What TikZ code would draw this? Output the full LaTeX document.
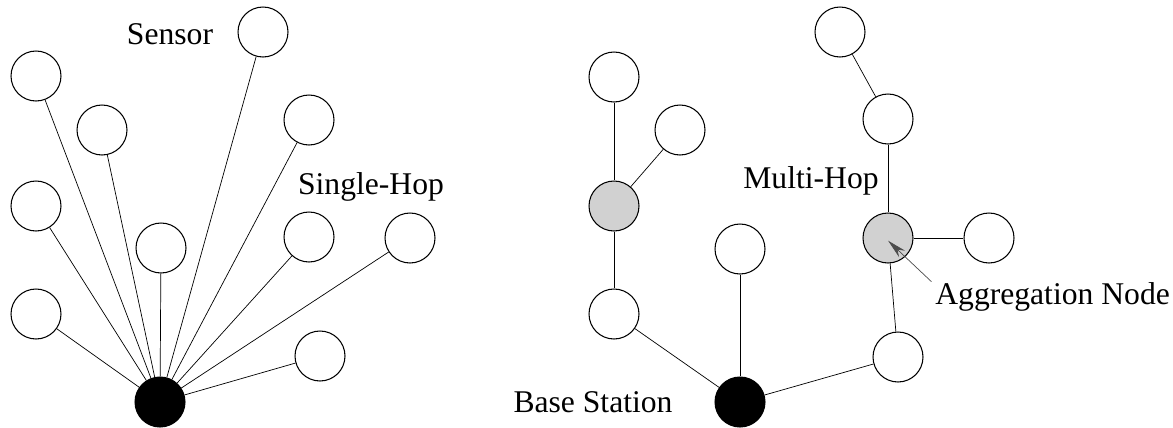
\documentclass[tikz,border=0pt]{standalone}
\usepackage{fontspec}
\setmainfont{Liberation Serif}
\usetikzlibrary{arrows.meta}
\tikzset{
line width=0.6pt,
sensor/.style={circle, draw, line width=0.6pt, minimum size=1cm, inner sep=0pt},
}

\begin{document}
\begin{tikzpicture}
    [x=0.02cm, y=-0.02cm,
    font=\fontsize{18}{20}\selectfont,
    base/.style={sensor, fill=black},
    aggr/.style={sensor, fill=black!18},
    caption/.style={inner sep=0pt, anchor=base},
    ]
    \useasboundingbox (0,0) rectangle (1173,427);

    % single-hop
    \node [base] (bs1) at (160,402) {};
    \node [sensor] (s1) at (36,76) {};
    \node [sensor] (s2) at (102,130) {};
    \node [sensor] (s3) at (263,32) {};
    \node [sensor] (s4) at (309,120) {};
    \node [sensor] (s5) at (36,206) {};
    \node [sensor] (s6) at (161,248) {};
    \node [sensor] (s7) at (309,237) {};
    \node [sensor] (s8) at (410,238) {};
    \node [sensor] (s9) at (36,314) {};
    \node [sensor] (s10) at (320,356) {};

    \node [caption] (sensortxt) at (170,44) {Sensor};
    \node [caption] (singletxt) at (371,194) {Single-Hop};

    \draw (bs1) -- (s1);
    \draw (bs1) -- (s2);
    \draw (bs1) -- (s3);
    \draw (bs1) -- (s4);
    \draw (bs1) -- (s5);
    \draw (bs1) -- (s6);
    \draw (bs1) -- (s7);
    \draw (bs1) -- (s8);
    \draw (bs1) -- (s9);
    \draw (bs1) -- (s10);

    % multi-hop
    \node [base] (bs2) at (740,402) {};
    \node [sensor] (m1) at (614,77) {};
    \node [sensor] (m2) at (680,130) {};
    \node [aggr] (agg1) at (614,206) {};
    \node [sensor] (m3) at (614,314) {};
    \node [sensor] (m4) at (740,249) {};
    \node [sensor] (m5) at (840,32) {};
    \node [sensor] (m6) at (888,119) {};
    \node [aggr] (agg2) at (888,238) {};
    \node [sensor] (m7) at (989,238) {};
    \node [sensor] (m8) at (898,357) {};

    \node [caption] (multitxt) at (811,188) {Multi-Hop};
    \node [caption] (basetxt) at (593,412) {Base Station};
    \node [caption, anchor=base west] (aggtxt) at (935,304) {Aggregation Node};

    \draw (m1) -- (agg1);
    \draw (m2) -- (agg1);
    \draw (agg1) -- (m3);
    \draw (m3) -- (bs2);
    \draw (m4) -- (bs2);
    \draw (m5) -- (m6);
    \draw (m6) -- (agg2);
    \draw (agg2) -- (m7);
    \draw (agg2) -- (m8);
    \draw (m8) -- (bs2);

    \draw [-{Stealth[length=11pt,width=5pt]}, black!70]
        ([xshift=-2pt]aggtxt.north west) -- ([yshift=-1.5pt]agg2.center);

\end{tikzpicture}
\end{document}
